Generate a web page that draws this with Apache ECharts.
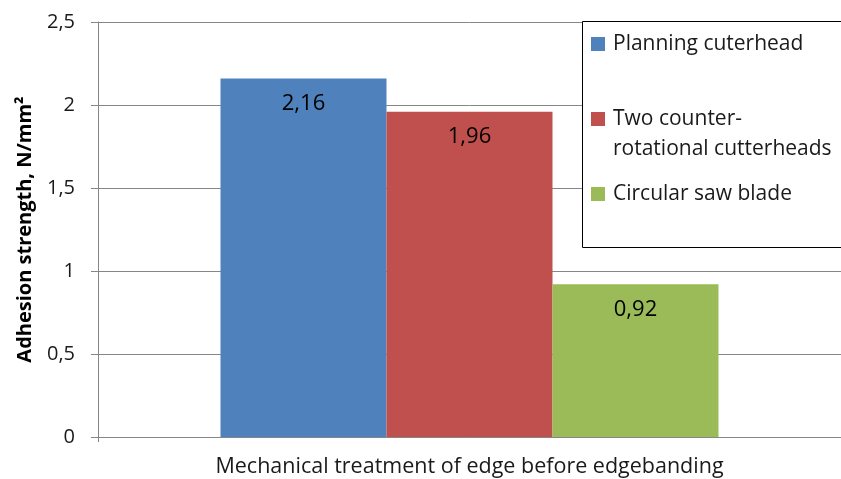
<!DOCTYPE html>
<html><head><meta charset="utf-8">
<script src="https://cdn.jsdelivr.net/npm/echarts@6/dist/echarts.min.js"></script>
<style>html,body{margin:0;padding:0;background:#fff}#c{width:841px;height:479px}</style>
</head><body><div id="c"></div>
<script>
const categories = ['Mechanical treatment of edge before edgebanding'];
const seriesNames = ['Planning cuterhead', 'Two counter-rotational cutterheads', 'Circular saw blade'];
const legendLines = [['Planning cuterhead'], ['Two counter-', 'rotational cutterheads'], ['Circular saw blade']];
const planning = [2.16];
const twoCounter = [1.96];
const circularSaw = [0.92];
const yTicks = [0, 0.5, 1, 1.5, 2, 2.5];
const colors = ['#4F81BD', '#C0504D', '#9BBB59'];
const FONT = 'Open Sans';
const values = [planning, twoCounter, circularSaw];
const chart = echarts.init(document.getElementById('c'), null, {renderer: 'canvas'});
const legendCenters = [44, 119, 194];
const LFS = 21;
chart.setOption({
  animation: false,
  textStyle: {fontFamily: FONT},
  grid: {left: 98, right: 0, top: 22, bottom: 42, containLabel: false},
  xAxis: {
    type: 'category', data: categories,
    axisLine: {lineStyle: {color: '#868686'}},
    axisTick: {show: true, length: 5, lineStyle: {color: '#868686'}},
    axisLabel: {color: '#1a1a1a', fontSize: 21.5, margin: 19, fontFamily: FONT}
  },
  yAxis: {
    type: 'value', min: yTicks[0], max: yTicks[yTicks.length - 1], interval: 0.5,
    name: 'Adhesion strength, N/mm²', nameLocation: 'middle', nameGap: 63,
    nameTextStyle: {fontWeight: 'bold', fontSize: 20, color: '#000', fontFamily: FONT},
    axisLine: {show: true, lineStyle: {color: '#868686'}},
    axisTick: {show: true, length: 7, inside: false, lineStyle: {color: '#868686'}},
    splitLine: {lineStyle: {color: '#868686'}},
    axisLabel: {color: '#1a1a1a', fontSize: 20, margin: 23, fontFamily: FONT,
      formatter: v => String(v).replace('.', ',')}
  },
  legend: seriesNames.map((n, i) => ({
    data: [n], left: 591, top: legendCenters[i] - 13, orient: 'vertical', padding: 0,
    itemWidth: 14, itemHeight: 14, itemGap: 0, icon: 'rect',
    formatter: () => legendLines[i][0],
    textStyle: {fontSize: LFS, color: '#1a1a1a', fontFamily: FONT, lineHeight: 26, padding: [0, 0, 0, 3]}
  })),
  graphic: [
    {type: 'rect', shape: {x: 582.5, y: 21.5, width: 270, height: 226},
      style: {fill: '#fff', stroke: '#000', lineWidth: 1}, z: 1},
    {type: 'text', left: 613, top: legendCenters[1] + 30 - 13, z: 10,
      style: {text: legendLines[1][1], font: LFS + 'px "' + FONT + '"', fill: '#1a1a1a', lineHeight: 26}}
  ],
  series: seriesNames.map((n, i) => ({
    name: n, type: 'bar', data: values[i], barWidth: 166, barGap: '0%',
    itemStyle: {color: colors[i]},
    label: {show: true, position: 'insideTop', distance: 14, color: '#000', fontSize: 22,
      fontFamily: FONT, formatter: p => String(p.value).replace('.', ',')}
  }))
});
</script></body></html>
